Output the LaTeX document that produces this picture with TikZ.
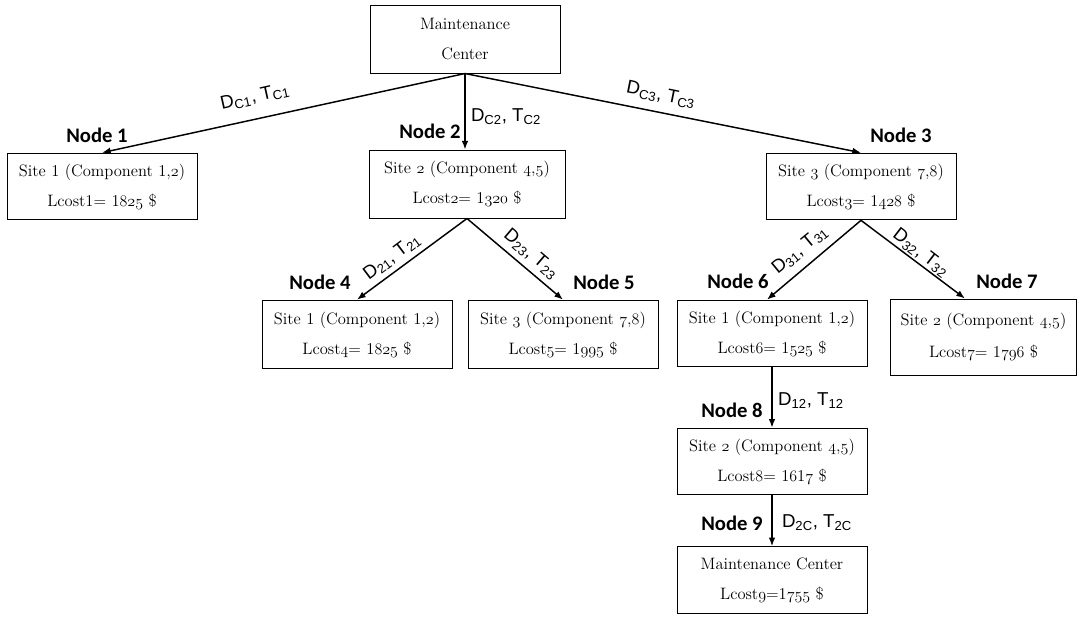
\documentclass[tikz,border=0pt]{standalone}
\usepackage{fontspec}
\newfontfamily\labfont{Liberation Sans}
\newfontfamily\nodefont{Carlito}
\usetikzlibrary{arrows.meta}
\newcommand\osn[1]{{\usefont{OML}{cmm}{m}{it}#1}}
\begin{document}
\begin{tikzpicture}[x=0.75pt,y=-0.75pt,
  box/.style={draw, line width=0.75pt, inner sep=0pt, align=center,
    font=\fontsize{12.4}{22.5}\selectfont, minimum width=142.5pt, minimum height=50pt},
  arr/.style={line width=1.1pt, -{Latex[length=6.5pt,width=5pt]}},
  lab/.style={font=\labfont\fontsize{14}{16}\selectfont, inner sep=0pt},
  nlab/.style={font=\nodefont\bfseries\fontsize{15.5}{18}\selectfont, inner sep=0pt}]
\useasboundingbox (0,0) rectangle (1079,619);

% boxes
\node[box, minimum height=51pt, font=\fontsize{12.4}{22}\selectfont] (mc) at (465,39) {Maintenance\\Center};
\node[box] (b1) at (102,186.5) {Site 1 (Component 1,\osn{2})\\Lcost1= 1\osn{825} \$};
\node[box, minimum width=147pt, minimum height=51pt] (b2) at (467,184) {Site \osn{2} (Component \osn{4},\osn{5})\\Lcost\osn{2}= 1\osn{320} \$};
\node[box] (b3) at (861,186.5) {Site \osn{3} (Component \osn{7},\osn{8})\\Lcost\osn{3}= 1\osn{428} \$};
\node[box, minimum height=51.5pt] (b4) at (357,334.5) {Site 1 (Component 1,\osn{2})\\Lcost\osn{4}= 1\osn{825} \$};
\node[box, minimum height=51.5pt] (b5) at (563,334.5) {Site \osn{3} (Component \osn{7},\osn{8})\\Lcost\osn{5}= 1\osn{995} \$};
\node[box] (b6) at (772,333.5) {Site 1 (Component 1,\osn{2})\\Lcost\osn{6}= 1\osn{525} \$};
\node[box, minimum width=140pt, minimum height=57pt, font=\fontsize{12.4}{24.5}\selectfont] (b7) at (983.5,337) {Site \osn{2} (Component \osn{4},\osn{5})\\Lcost\osn{7}= 1\osn{796} \$};
\node[box] (b8) at (772,461.5) {Site \osn{2} (Component \osn{4},\osn{5})\\Lcost\osn{8}= 1\osn{6}1\osn{7} \$};
\node[box] (b9) at (772,580) {Maintenance Center\\Lcost\osn{9}=1\osn{755} \$};

% node labels
\node[nlab] (n1) at (97,135) {Node 1};
\node[nlab] (n2) at (430,131) {Node 2};
\node[nlab] (n3) at (901,135) {Node 3};
\node[nlab] (n4) at (320,282) {Node 4};
\node[nlab] (n5) at (604,282) {Node 5};
\node[nlab] (n6) at (738,281) {Node 6};
\node[nlab] (n7) at (1007,281) {Node 7};
\node[nlab] (n8) at (732,410) {Node 8};
\node[nlab] (n9) at (732,523) {Node 9};

% connectors
\draw[arr] (mc.south) -- (b1.north);
\draw[arr] (mc.south) -- (mc.south |- b2.north);
\draw[arr] (mc.south) -- (b3.north);
\draw[arr] (b2.south) -- (b4.north);
\draw[arr] (b2.south) -- (b5.north);
\draw[arr] (b3.south) -- ([xshift=-3.75pt]b6.north);
\draw[arr] (b3.south) -- ([xshift=-13.9pt]b7.north);
\draw[arr] (b6.south) -- (b8.north);
\draw[arr] (b8.south) -- (b9.north);

% connector labels
\node[lab, rotate=12.5] (lc1) at (255,97) {D\textsubscript{C1}, T\textsubscript{C1}};
\node[lab] (lc2) at (506,117) {D\textsubscript{C2}, T\textsubscript{C2}};
\node[lab, rotate=-11.4] (lc3) at (661,95) {D\textsubscript{C3}, T\textsubscript{C3}};
\node[lab, rotate=37] (l21) at (392,257) {D\textsubscript{21}, T\textsubscript{21}};
\node[lab, rotate=-40.5] (l23) at (531,254) {D\textsubscript{23}, T\textsubscript{23}};
\node[lab, rotate=39.5] (l31) at (800,250) {D\textsubscript{31}, T\textsubscript{31}};
\node[lab, rotate=-37.5] (l32) at (921,253) {D\textsubscript{32}, T\textsubscript{32}};
\node[lab] (l12) at (811,401) {D\textsubscript{12}, T\textsubscript{12}};
\node[lab] (l2c) at (817,523) {D\textsubscript{2C}, T\textsubscript{2C}};
\end{tikzpicture}
\end{document}
